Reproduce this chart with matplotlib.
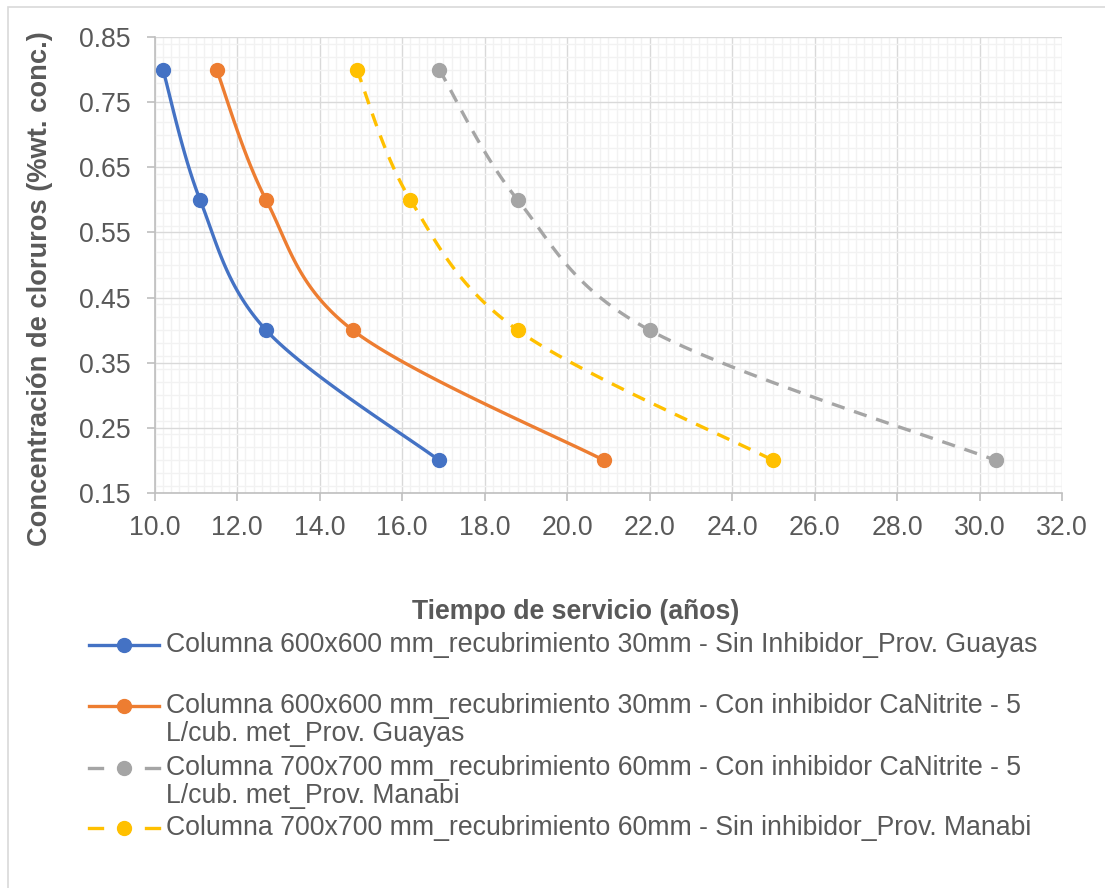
import numpy as np
import matplotlib
matplotlib.use("Agg")
import matplotlib.pyplot as plt
from matplotlib.lines import Line2D
from matplotlib.patches import Rectangle
from matplotlib.ticker import MultipleLocator, FormatStrFormatter

plt.rcParams['font.family'] = ['Liberation Sans', 'DejaVu Sans']

# ---- data ----
conc = [0.80, 0.60, 0.40, 0.20]
t_600_sin = [10.2, 11.1, 12.7, 16.9]
t_600_con = [11.5, 12.7, 14.8, 20.9]
t_700_con = [16.9, 18.8, 22.0, 30.4]
t_700_sin = [14.9, 16.2, 18.8, 25.0]

labels = [
    "Columna 600x600 mm_recubrimiento 30mm - Sin Inhibidor_Prov. Guayas",
    "Columna 600x600 mm_recubrimiento 30mm - Con inhibidor CaNitrite - 5\nL/cub. met_Prov. Guayas",
    "Columna 700x700 mm_recubrimiento 60mm - Con inhibidor CaNitrite - 5\nL/cub. met_Prov. Manabi",
    "Columna 700x700 mm_recubrimiento 60mm - Sin inhibidor_Prov. Manabi",
]
xlabel = "Tiempo de servicio (años)"
ylabel = "Concentración de cloruros (%wt. conc.)"

colors = ["#4472C4", "#ED7D31", "#A5A5A5", "#FFC000"]
styles = ["-", "-", (0, (4, 3)), (0, (4, 3))]
series = [t_600_sin, t_600_con, t_700_con, t_700_sin]

W, H = 1105, 888
fig = plt.figure(figsize=(W / 100, H / 100), dpi=100)
TXT = "#595959"
FS = 19.2

def fx(px):
    return px / W

def fy(py):
    return 1 - py / H

# chart border
fig.patches.append(Rectangle((fx(8), fy(1000)), fx(1200) - fx(8), fy(7) - fy(1000),
                             transform=fig.transFigure, fill=False, ec="#d9d9d9", lw=1.2))

left, right, top, bottom = 154.7, 1062, 37, 493
ax = fig.add_axes([fx(left), fy(bottom), fx(right) - fx(left), fy(top) - fy(bottom)])
ax.set_xlim(10, 32)
ax.set_ylim(0.15, 0.85)
ax.xaxis.set_major_locator(MultipleLocator(2))
ax.xaxis.set_minor_locator(MultipleLocator(0.2))
ax.yaxis.set_minor_locator(MultipleLocator(0.02))
ax.set_yticks(np.arange(0.15, 0.851, 0.1))
ax.xaxis.set_major_formatter(FormatStrFormatter("%.1f"))
ax.yaxis.set_major_formatter(FormatStrFormatter("%.2f"))
ax.grid(which="minor", color="#f2f2f2", lw=1.0)
ax.grid(which="major", color="#d9d9d9", lw=1.0)
ax.set_axisbelow(True)
for s in ["top", "right"]:
    ax.spines[s].set_visible(False)
for s in ["left", "bottom"]:
    ax.spines[s].set_color("#bfbfbf")
    ax.spines[s].set_linewidth(1.2)
ax.tick_params(which="major", length=6, color="#bfbfbf", width=1.2, labelsize=FS,
               labelcolor=TXT)
ax.tick_params(axis="y", pad=11)
ax.tick_params(axis="x", pad=10)
ax.tick_params(which="minor", length=0)

fig.canvas.draw()


def smooth(xs, ys, n=40):
    pts = ax.transData.transform(np.column_stack([xs, ys]))
    out = []
    m = len(pts)
    for i in range(m - 1):
        p0 = pts[max(i - 1, 0)]
        p1 = pts[i]
        p2 = pts[i + 1]
        p3 = pts[min(i + 2, m - 1)]
        c1 = p1 + (p2 - p0) / 6.0
        c2 = p2 - (p3 - p1) / 6.0
        t = np.linspace(0, 1, n)[:, None]
        seg = ((1 - t) ** 3) * p1 + 3 * ((1 - t) ** 2) * t * c1 + 3 * (1 - t) * t ** 2 * c2 + t ** 3 * p2
        out.append(seg if i == 0 else seg[1:])
    out = np.vstack(out)
    d = ax.transData.inverted().transform(out)
    return d[:, 0], d[:, 1]


for xs, c, ls in zip(series, colors, styles):
    sx, sy = smooth(xs, conc)
    ax.plot(sx, sy, color=c, lw=2.4, linestyle=ls, zorder=3)
    ax.plot(xs, conc, linestyle="none", marker="o", ms=10, color=c, zorder=4)

# axis titles
fig.text(fx(40), fy(289), ylabel, rotation=90, ha="center", va="center",
         fontsize=19.6, fontweight="bold", color=TXT)
fig.text(fx(576), fy(612), xlabel, ha="center", va="center",
         fontsize=FS, fontweight="bold", color=TXT)

# legend (manual, top-aligned like the original)
ys_leg = [645, 706, 768, 828]
for lab, c, ls, yl in zip(labels, colors, styles, ys_leg):
    if ls == "-":
        fig.add_artist(Line2D([fx(89), fx(159)], [fy(yl), fy(yl)], color=c, lw=2.4,
                              transform=fig.transFigure))
    else:
        fig.add_artist(Line2D([fx(89), fx(102)], [fy(yl), fy(yl)], color=c, lw=2.4,
                              transform=fig.transFigure))
        fig.add_artist(Line2D([fx(146), fx(159)], [fy(yl), fy(yl)], color=c, lw=2.4,
                              transform=fig.transFigure))
    fig.add_artist(Line2D([fx(124)], [fy(yl)], marker="o", ms=10, color=c, linestyle="none",
                          transform=fig.transFigure))
    fig.text(fx(166), fy(yl - 13), lab, ha="left", va="top", fontsize=FS, color=TXT,
             linespacing=1.12)

fig.savefig("out.png", dpi=100)
